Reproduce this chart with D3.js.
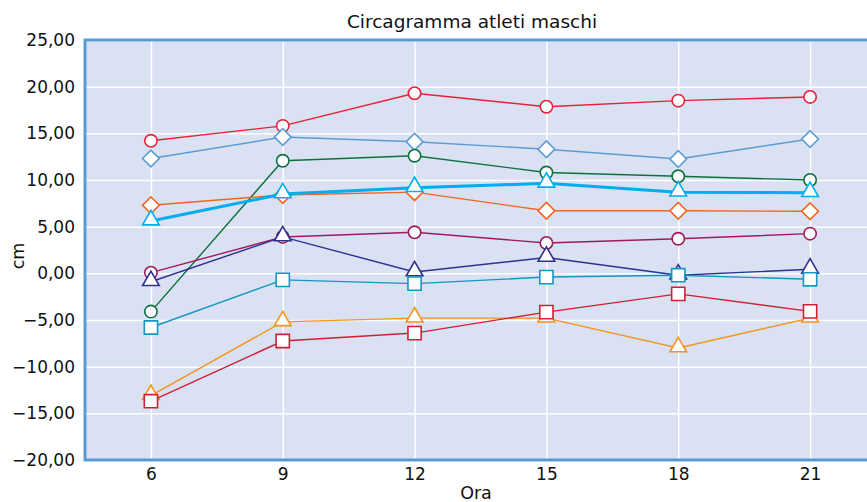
<!DOCTYPE html>
<html><head><meta charset="utf-8">
<script src="https://cdn.jsdelivr.net/npm/d3@7"></script>
<style>body{margin:0;background:#fff}svg{display:block}text{font-family:"DejaVu Sans",sans-serif;fill:#111}</style>
</head><body><svg id="c" width="867" height="502"></svg>
<script>
const hours = [6, 9, 12, 15, 18, 21];
const yTicks = [-20, -15, -10, -5, 0, 5, 10, 15, 20, 25];
const redCircles = [14.2, 15.8, 19.3, 17.85, 18.5, 18.9];
const blueDiamonds = [12.3, 14.6, 14.1, 13.3, 12.25, 14.4];
const greenCircles = [-4.1, 12.06, 12.6, 10.8, 10.4, 10.0];
const cyanTriangles = [5.6, 8.5, 9.17, 9.64, 8.7, 8.64];
const orangeDiamonds = [7.3, 8.4, 8.7, 6.7, 6.7, 6.65];
const plumCircles = [0.07, 3.9, 4.4, 3.25, 3.7, 4.25];
const navyTriangles = [-0.9, 3.9, 0.15, 1.7, -0.2, 0.43];
const tealSquares = [-5.8, -0.7, -1.1, -0.4, -0.2, -0.64];
const yellowTriangles = [-13.1, -5.2, -4.8, -4.8, -8.0, -4.8];
const crimsonSquares = [-13.7, -7.25, -6.4, -4.15, -2.2, -4.07];

const series = [
  {v: redCircles, c: "#e8203a", m: "circle", w: 1.4},
  {v: blueDiamonds, c: "#5b9bd5", m: "diamond", w: 1.4},
  {v: greenCircles, c: "#0e7040", m: "circle", w: 1.4},
  {v: orangeDiamonds, c: "#f26522", m: "diamond", w: 1.4},
  {v: cyanTriangles, c: "#00aeef", m: "triangle", w: 3},
  {v: plumCircles, c: "#a3195b", m: "circle", w: 1.4},
  {v: navyTriangles, c: "#2e3192", m: "triangle", w: 1.4},
  {v: tealSquares, c: "#1497c0", m: "square", w: 1.4},
  {v: yellowTriangles, c: "#f7941d", m: "triangle", w: 1.4},
  {v: crimsonSquares, c: "#d02035", m: "square", w: 1.4}
];

const svg = d3.select("#c");
const L = 85, R = 876, T = 40, B = 460;
const x = d3.scalePoint().domain(hours).range([L, R]).padding(0.5);
const y = d3.scaleLinear().domain([-20, 25]).range([B, T]);

svg.append("rect").attr("x", L).attr("y", T).attr("width", R - L).attr("height", B - T).attr("fill", "#d9e1f2");

// grid
const gy = svg.append("g").attr("transform", `translate(${L},0)`)
  .call(d3.axisLeft(y).tickValues(yTicks).tickSize(-(R - L)).tickFormat(""));
gy.select(".domain").remove();
gy.selectAll("line").attr("stroke", "#fff").attr("stroke-width", 1.5);
const gx = svg.append("g").attr("transform", `translate(0,${B})`)
  .call(d3.axisBottom(x).tickSize(-(B - T)).tickFormat(""));
gx.select(".domain").remove();
gx.selectAll("line").attr("stroke", "#fff").attr("stroke-width", 1.5);

// border
svg.append("rect").attr("x", L).attr("y", T).attr("width", R - L).attr("height", B - T)
  .attr("fill", "none").attr("stroke", "#5b9bd5").attr("stroke-width", 3);

// axis labels
const fmt = d => d3.format(".2f")(d).replace(".", ",");
const ay = svg.append("g").attr("transform", `translate(${L},0)`)
  .call(d3.axisLeft(y).tickValues(yTicks).tickSize(0).tickPadding(10).tickFormat(fmt));
ay.select(".domain").remove();
ay.selectAll("text").attr("font-size", 17).attr("font-family", "DejaVu Sans").attr("fill", "#111");
const ax = svg.append("g").attr("transform", `translate(0,${B})`)
  .call(d3.axisBottom(x).tickSize(0).tickPadding(8));
ax.select(".domain").remove();
ax.selectAll("text").attr("font-size", 17).attr("font-family", "DejaVu Sans").attr("fill", "#111");

const line = d3.line().x((d, i) => x(hours[i])).y(d => y(d));
const sym = {
  circle: d3.symbol().type(d3.symbolCircle).size(120),
  diamond: d3.symbol().type(d3.symbolSquare).size(140),
  square: d3.symbol().type(d3.symbolSquare).size(175),
  triangle: d3.symbol().type(d3.symbolTriangle).size(120)
};
series.forEach(s => {
  svg.append("path").attr("d", line(s.v)).attr("fill", "none").attr("stroke", s.c).attr("stroke-width", s.w);
  svg.append("g").selectAll("path").data(s.v).join("path")
    .attr("d", sym[s.m]())
    .attr("transform", (d, i) => `translate(${x(hours[i])},${y(d) + (s.m === "triangle" ? -1 : 0)})` + (s.m === "diamond" ? " rotate(45)" : ""))
    .attr("fill", "#fff").attr("stroke", s.c).attr("stroke-width", 1.6);
});

svg.append("text").attr("x", 472).attr("y", 28).attr("text-anchor", "middle").attr("font-size", 18.5).text("Circagramma atleti maschi");
svg.append("text").attr("x", 476).attr("y", 499).attr("text-anchor", "middle").attr("font-size", 17.5).text("Ora");
svg.append("text").attr("transform", "translate(24,256) rotate(-90)").attr("text-anchor", "middle").attr("font-size", 17.5).text("cm");
</script></body></html>
